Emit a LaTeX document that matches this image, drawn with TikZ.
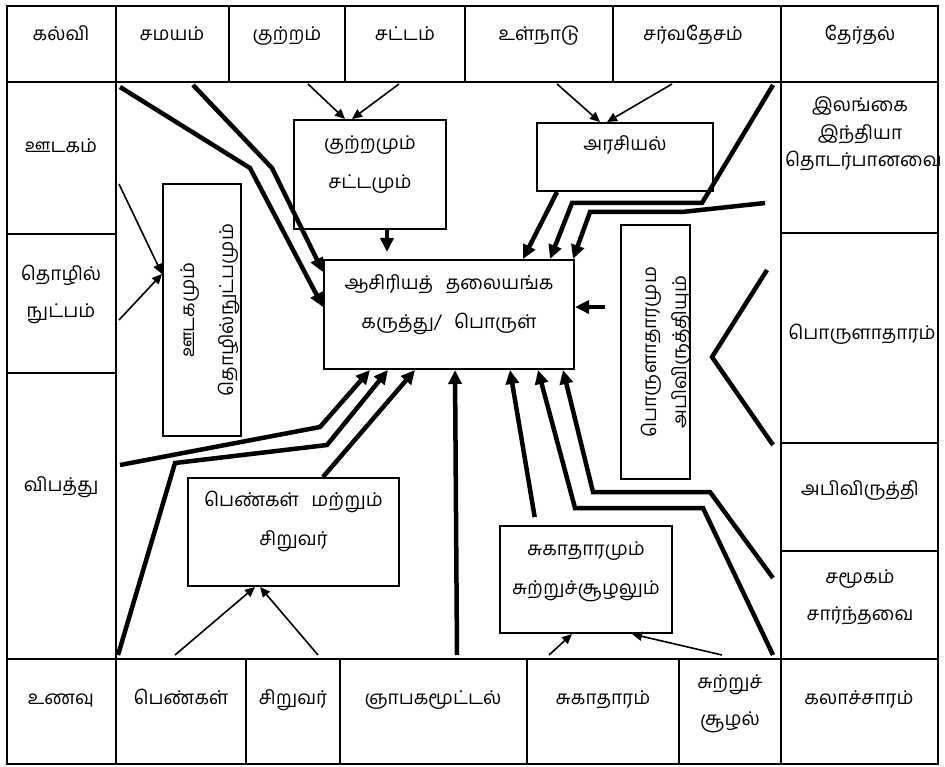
\documentclass[tikz,border=0pt]{standalone}
\usepackage{fontspec}
\newfontfamily\tamil[Script=Tamil]{Hind Madurai}
\usetikzlibrary{arrows.meta}
\tikzset{
  tabline/.style={line width=2pt},
  cell/.style={font=\tamil\fontsize{19}{37}\selectfont, anchor=base, inner sep=0pt, align=center, text width=150pt},
  tbox/.style={draw, line width=2pt, font=\tamil\fontsize{19}{39}\selectfont, align=center, inner sep=0pt, anchor=north west},
  thinarrow/.style={line width=1.6pt, -{Triangle[length=10pt,width=9pt]}},
  thickarrow/.style={line width=4.5pt, -{Triangle[length=14pt,width=13pt]}},
}
\begin{document}
\begin{tikzpicture}[x=1pt, y=-1pt]
\useasboundingbox (0,0) rectangle (945,767);
\draw[tabline](7,6) rectangle (938,764);
\draw[tabline](7,82) -- (938,82) (7,659) -- (938,659);
\draw[tabline](116,6) -- (116,764) (781,6) -- (781,764);
\foreach \x in {229,345,465,613} \draw[tabline](\x,6) -- (\x,82);
\foreach \x in {246,340,527,679} \draw[tabline](\x,659) -- (\x,764);
\foreach \y in {234,373} \draw[tabline](7,\y) -- (116,\y);
\foreach \y in {233,443,551} \draw[tabline](781,\y) -- (938,\y);

\node (kalvi) at (61,41) [cell]{கல்வி};
\node (samayam) at (172,41) [cell]{சமயம்};
\node (kutram) at (287,41) [cell]{குற்றம்};
\node (sattam) at (405,41) [cell]{சட்டம்};
\node (ulnadu) at (539,41) [cell]{உள்நாடு};
\node (sarvadesam) at (693,41) [cell]{சர்வதேசம்};
\node (therthal) at (860,41) [cell]{தேர்தல்};
\node (udakam) at (61,153) [cell]{ஊடகம்};
\node (thozhil) at (61,281) [cell]{தொழில்\\நுட்பம்};
\node (vipaththu) at (61,491) [cell]{விபத்து};
\node (ilankai) at (860,112) [cell, font=\tamil\fontsize{19}{27.5}\selectfont]{இலங்கை\\இந்தியா\\தொடர்பானவை};
\node (porulatharam) at (862,339) [cell]{பொருளாதாரம்};
\node (abivirutthi) at (860,495) [cell]{அபிவிருத்தி};
\node (samukam) at (860,583) [cell]{சமூகம்\\சார்ந்தவை};
\node (unavu) at (61,704) [cell]{உணவு};
\node (pengal) at (181,704) [cell]{பெண்கள்};
\node (siruvar) at (293,704) [cell]{சிறுவர்};
\node (nyapakam) at (433,704) [cell]{ஞாபகமூட்டல்};
\node (sukatharam) at (603,704) [cell]{சுகாதாரம்};
\node (suzhal) at (730,688) [cell]{சுற்றுச்\\சூழல்};
\node (kalacharam) at (859,704) [cell]{கலாச்சாரம்};

\node (ks) at (293,119) [tbox, text width=152pt, text height=30pt, text depth=79pt]{குற்றமும்\\சட்டமும்};
\node (ar) at (536,122) [tbox, text width=176pt, text height=28pt, text depth=40pt]{அரசியல்};
\node (cb) at (323,259) [tbox, text width=250pt, text height=30pt, text depth=79pt]{ஆசிரியத்\ \ தலையங்க\\கருத்து/\ \ பொருள்};
\node (ps) at (187,477) [tbox, text width=211pt, text height=28pt, text depth=80pt]{பெண்கள்\ \ மற்றும்\\சிறுவர்};
\node (sc) at (499,525) [tbox, text width=172pt, text height=29pt, text depth=78pt]{சுகாதாரமும்\\சுற்றுச்சூழலும்};
\node (um) at (202,310) [tbox, anchor=center, rotate=90, text width=252pt, text height=31.5pt, text depth=46.5pt]{ஊடகமும்\\தொழில்நுட்பமும்};
\node (pa) at (655.5,352) [tbox, anchor=center, rotate=90, text width=254pt, text height=35.5pt, text depth=33.5pt, font=\tamil\fontsize{19}{30}\selectfont]{பொருளாதாரமும\\அபிவிருத்தியும்};

\coordinate (fKutram) at (308,84);
\coordinate (fSattam) at (399,84);
\coordinate (fUlnadu) at (557,84);
\coordinate (fSarva) at (672,84);
\coordinate (fUdakam) at (119,184);
\coordinate (fThozhil) at (119,320);
\coordinate (fPengal) at (175,655);
\coordinate (fSiruvar) at (318,655);
\coordinate (fSuka) at (549,655);
\coordinate (fSuzhal) at (722,655);
\coordinate (fKalvi) at (120,87);
\coordinate (fSamayam) at (193,85);
\coordinate (fTherthal) at (773,85);
\coordinate (fIlankai) at (765,203);
\coordinate (fPorul) at (605,307);
\coordinate (fVipathu) at (120,465);
\coordinate (fUnavu) at (118,655);
\coordinate (fNyapakam) at (457,655);
\coordinate (fKala) at (773,655);
\coordinate (fSamukam) at (773,578);

\draw[thinarrow](fKutram) -- (345,0 |- ks.north);
\draw[thinarrow](fSattam) -- (352,0 |- ks.north);
\draw[thinarrow](fUlnadu) -- (600,0 |- ar.north);
\draw[thinarrow](fSarva) -- (607,0 |- ar.north);
\draw[thinarrow](fUdakam) -- (um.north |- 0,274);
\draw[thinarrow](fThozhil) -- (um.north |- 0,274);
\draw[thinarrow](fPengal) -- (255,0 |- ps.south);
\draw[thinarrow](fSiruvar) -- (260,0 |- ps.south);
\draw[thinarrow](fSuka) -- (572,0 |- sc.south);
\draw[thinarrow](fSuzhal) -- (632,0 |- sc.south);

\draw[thickarrow](fKalvi) -- (250,168) -- (cb.west |- 0,307);
\draw[thickarrow](fSamayam) -- (272,168) -- (cb.west |- 0,272);
\draw[thickarrow, shorten >=7pt](387,0 |- ks.south) -- (387,0 |- cb.north);
\draw[thickarrow](557,0 |- ar.south) -- (523,0 |- cb.north);
\draw[thickarrow](fTherthal) -- (702,203) -- (572,203) -- (550,0 |- cb.north);
\draw[thickarrow](fIlankai) -- (682,212) -- (590,212) -- (573,0 |- cb.north);
\draw[thickarrow](fPorul) -- (cb.east |- fPorul);
\draw[line width=4.5pt](767,270) -- (712,357) -- (773,445);
\draw[thickarrow](fVipathu) -- (320,427) -- (370,0 |- cb.south);
\draw[thickarrow](fUnavu) -- (175,463) -- (327,445) -- (388,0 |- cb.south);
\draw[thickarrow](323,0 |- ps.north) -- (415,0 |- cb.south);
\draw[thickarrow](fNyapakam) -- (455,0 |- cb.south);
\draw[thickarrow, shorten <=8pt](536,0 |- sc.north) -- (510,0 |- cb.south);
\draw[thickarrow](fKala) -- (703,508) -- (575,508) -- (538,0 |- cb.south);
\draw[thickarrow](fSamukam) -- (710,492) -- (593,492) -- (563,0 |- cb.south);
\end{tikzpicture}
\end{document}
